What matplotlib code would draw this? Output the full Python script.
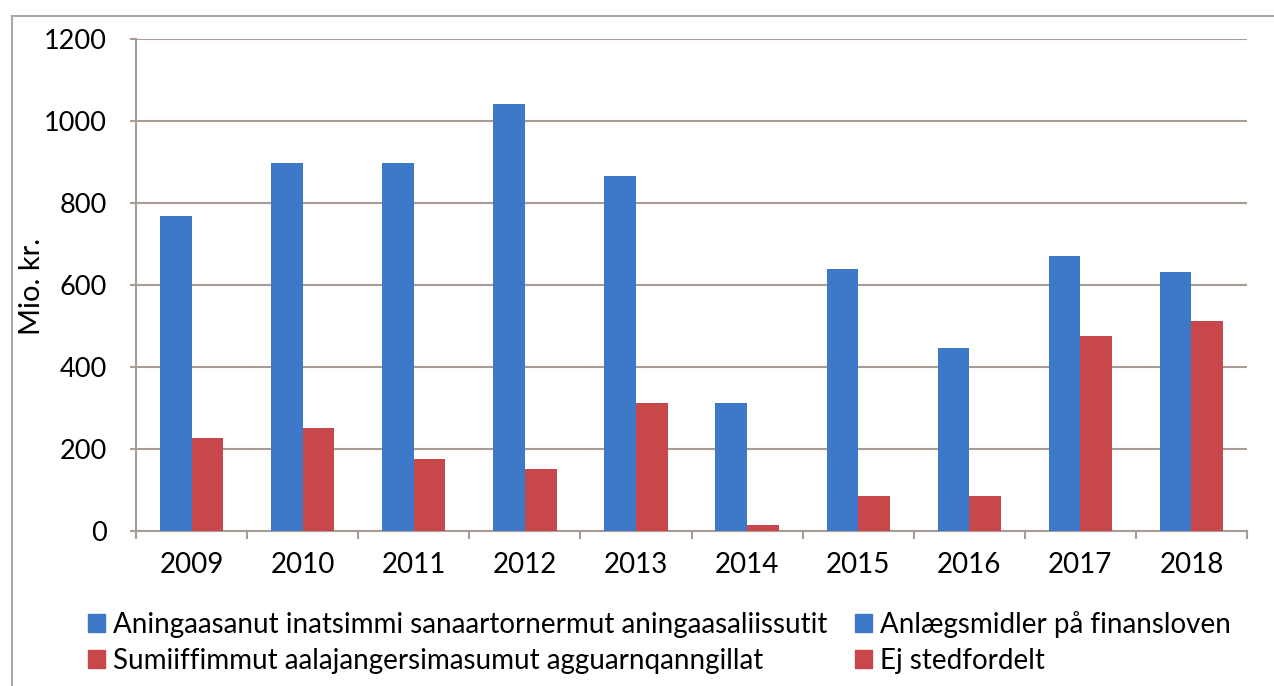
import numpy as np
import matplotlib
matplotlib.use("Agg")
import matplotlib.pyplot as plt
from matplotlib.patches import Patch, Rectangle

plt.rcParams['font.family'] = ['Lato', 'DejaVu Sans']

# data (Mio. kr.)
years = ['2009', '2010', '2011', '2012', '2013', '2014', '2015', '2016', '2017', '2018']
anlaeg = [768, 898, 898, 1041, 866, 312, 639, 446, 671, 632]
ej_stedfordelt = [227, 251, 176, 151, 312, 15, 85, 85, 476, 512]

labels_kl = ['Aningaasanut inatsimmi sanaartornermut aningaasaliissutit',
             'Sumiiffimmut aalajangersimasumut agguarnqanngillat']
labels_da = ['Anlægsmidler på finansloven', 'Ej stedfordelt']

blue = '#3d78c9'
red = '#c8474b'
grid_col = '#a89c94'

fig = plt.figure(figsize=(12.74, 6.86), dpi=100)
ax = fig.add_axes([0.1068, 0.2259, 0.872, 0.7172])

x = np.arange(len(years))
w = 0.285
ax.bar(x - w / 2, anlaeg, width=w, color=blue, zorder=3)
ax.bar(x + w / 2, ej_stedfordelt, width=w, color=red, zorder=3)

ax.set_xlim(-0.5, len(years) - 0.5)
ax.set_ylim(0, 1200)
ax.set_yticks(range(0, 1201, 200))
ax.set_xticks(x)
ax.set_xticklabels(years)
ax.set_xticks(np.arange(-0.5, len(years)), minor=True)

ax.yaxis.grid(True, color=grid_col, linewidth=1.5, zorder=0)
for s in ['top', 'right']:
    ax.spines[s].set_visible(False)
for s in ['left', 'bottom']:
    ax.spines[s].set_color(grid_col)
    ax.spines[s].set_linewidth(1.5)

ax.tick_params(axis='y', length=4, width=1.5, color=grid_col, pad=17, labelsize=19.5)
ax.tick_params(axis='x', which='major', length=0, pad=15, labelsize=20)
ax.tick_params(axis='x', which='minor', length=6, width=1.5, color=grid_col)

fig.text(0.025, 0.583, 'Mio. kr.', rotation=90, ha='center', va='center', fontsize=21)

handles = [Patch(color=blue), Patch(color=red), Patch(color=blue), Patch(color=red)]
leg_labels = [labels_kl[0], labels_kl[1], labels_da[0], labels_da[1]]
fig.legend(handles, leg_labels, ncol=2, loc='upper left', bbox_to_anchor=(0.0605, 0.126),
           frameon=False, fontsize=20, handlelength=0.6, handleheight=0.6,
           handletextpad=0.3, columnspacing=1.0, labelspacing=0.36, borderaxespad=0)

# outer chart frame
fig.patches.append(Rectangle((12 / 1274, -0.1), 1.2, 1.1 - 16 / 686,
                             transform=fig.transFigure, fill=False,
                             edgecolor='#a8a8a8', linewidth=1.5))

fig.savefig('out.png', dpi=100)
